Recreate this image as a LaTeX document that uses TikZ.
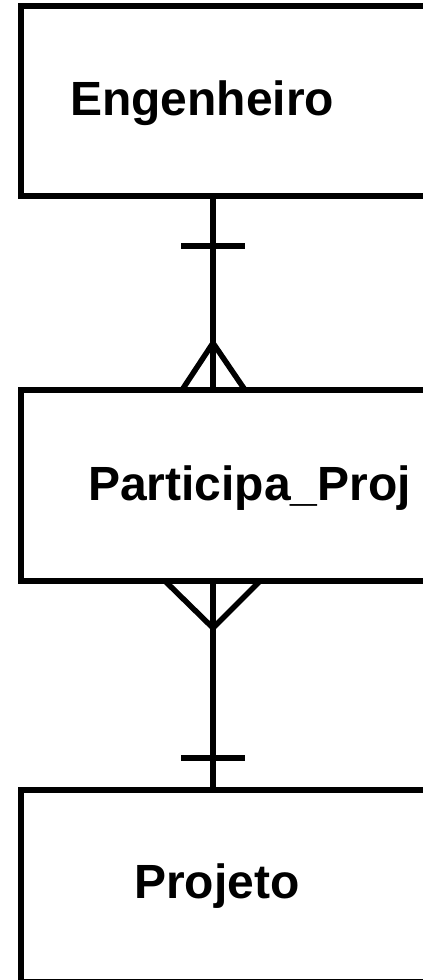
\documentclass[tikz,border=0pt]{standalone}
\usepackage{fontspec}
\setmainfont{Liberation Sans}
\begin{document}
\begin{tikzpicture}[x=1pt,y=-1pt,
  entity/.style={draw, line width=6pt, rectangle, inner sep=0pt, minimum width=440pt},
  etitle/.style={anchor=base west, inner sep=0pt, font=\fontsize{48}{58}\selectfont\bfseries},
  rel/.style={line width=5.5pt}]
\useasboundingbox (0,0) rectangle (423,980);
\clip (0,0) rectangle (423,980);

% entities (their right edges run past the page)
\node[entity, minimum height=190pt] (eng) at (241,101) {};
\node[entity, minimum height=191pt] (part) at (241,485.5) {};
\node[entity, minimum height=191.6pt] (proj) at (241,885.8) {};

\node[etitle] (engT) at (70,115) {Engenheiro};
\node[etitle] (partT) at (88,500) {Participa\_Proj};
\node[etitle] (projT) at (134,898) {Projeto};

% relationship Engenheiro -- Participa_Proj
\coordinate (a1) at (213,196);
\coordinate (a2) at (213,390);
\coordinate (a3) at (213,343);
\draw[rel] (a1) -- (a2);
\draw[rel] (181,246) -- (245,246);
\draw[rel] (182,390) -- (a3) -- (245,390);

% relationship Participa_Proj -- Projeto
\coordinate (b1) at (213,581);
\coordinate (b2) at (213,790);
\coordinate (b3) at (213,628);
\draw[rel] (b1) -- (b2);
\draw[rel] (181,758) -- (245,758);
\draw[rel] (165,581) -- (b3) -- (260,581);
\end{tikzpicture}
\end{document}
